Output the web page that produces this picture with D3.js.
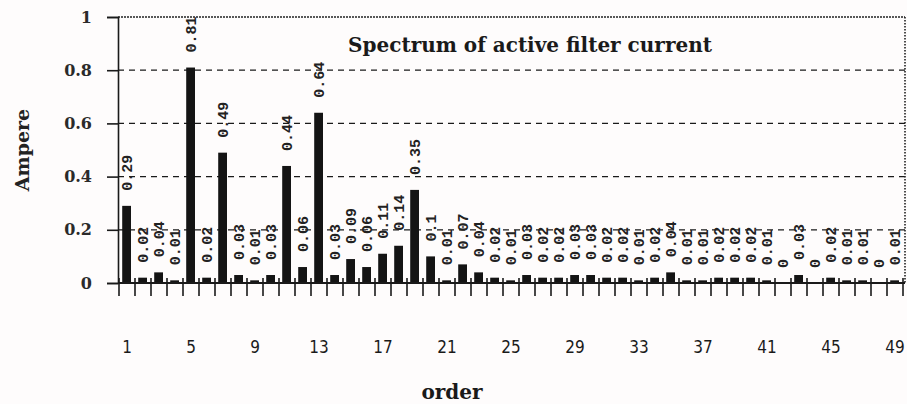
<!DOCTYPE html>
<html>
<head>
<meta charset="utf-8">
<script src="https://cdn.jsdelivr.net/npm/d3@7"></script>
<style>
  html, body { margin: 0; padding: 0; background: #fefcfc; }
  svg { display: block; }
</style>
</head>
<body>
<svg id="chart" width="907" height="404"></svg>
<script>
// Harmonic orders and measured current amplitude (A)
const orders = d3.range(1, 50);
const amps = [
  0.29, 0.02, 0.04, 0.01, 0.81, 0.02, 0.49, 0.03, 0.01, 0.03,
  0.44, 0.06, 0.64, 0.03, 0.09, 0.06, 0.11, 0.14, 0.35, 0.1,
  0.01, 0.07, 0.04, 0.02, 0.01, 0.03, 0.02, 0.02, 0.03, 0.03,
  0.02, 0.02, 0.01, 0.02, 0.04, 0.01, 0.01, 0.02, 0.02, 0.02,
  0.01, 0, 0.03, 0, 0.02, 0.01, 0.01, 0, 0.01
];
const yTicks = [0, 0.2, 0.4, 0.6, 0.8, 1];
const xTickLabels = [1, 5, 9, 13, 17, 21, 25, 29, 33, 37, 41, 45, 49];
const titleText = "Spectrum of active filter current";
const yTitle = "Ampere";
const xTitle = "order";

const data = orders.map((o, i) => ({ order: o, value: amps[i] }));

const svg = d3.select("#chart");
const plotLeft = 119, plotRight = 903, plotTop = 17, plotBottom = 283, frameRight = 905;

const x = d3.scaleBand().domain(orders).range([plotLeft, plotRight]).padding(0);
const y = d3.scaleLinear().domain([0, 1]).range([plotBottom, plotTop]);
const bw = x.bandwidth();
const serif = "'DejaVu Serif', 'Liberation Serif', serif";

// dashed gridlines
svg.append("g")
  .selectAll("line")
  .data(yTicks.filter(v => v > 0 && v < 1))
  .join("line")
  .attr("x1", plotLeft - 1).attr("x2", frameRight)
  .attr("y1", d => y(d)).attr("y2", d => y(d))
  .attr("stroke", "#1a1a1a").attr("stroke-width", 1.3)
  .attr("stroke-dasharray", "6,5");

// dotted frame on top and right
svg.append("line")
  .attr("x1", plotLeft - 1).attr("x2", frameRight).attr("y1", y(1)).attr("y2", y(1))
  .attr("stroke", "#222").attr("stroke-width", 1.4).attr("stroke-dasharray", "2,1");
svg.append("line")
  .attr("x1", frameRight).attr("x2", frameRight).attr("y1", y(1)).attr("y2", y(0))
  .attr("stroke", "#222").attr("stroke-width", 1.6).attr("stroke-dasharray", "1.5,1.5");

// bars
svg.append("g")
  .selectAll("rect")
  .data(data)
  .join("rect")
  .attr("x", d => x(d.order) + bw * 0.2)
  .attr("width", bw * 0.55)
  .attr("y", d => y(d.value))
  .attr("height", d => y(0) - y(d.value))
  .attr("fill", "#141414");

// value labels, rotated
svg.append("g")
  .selectAll("text")
  .data(data)
  .join("text")
  .attr("transform", d => `translate(${x(d.order) + bw / 2 + 5},${y(d.value) - 15}) rotate(-90)`)
  .attr("font-family", "'Liberation Mono', 'DejaVu Sans Mono', monospace")
  .attr("font-size", 15)
  .attr("font-weight", "bold")
  .attr("fill", "#222")
  .text(d => String(d.value));

// y axis
const yAxis = svg.append("g")
  .attr("transform", `translate(${plotLeft - 1},0)`)
  .call(d3.axisLeft(y).tickValues(yTicks).tickSize(11).tickPadding(15).tickFormat(d => String(d)));
yAxis.selectAll("path, line").attr("stroke", "#1a1a1a").attr("stroke-width", 1.6);
yAxis.selectAll("text")
  .attr("font-family", serif).attr("font-weight", "bold")
  .attr("font-size", 16).attr("fill", "#2a2a2a");

// x axis line and crossing ticks at category boundaries
svg.append("line")
  .attr("x1", plotLeft - 1).attr("x2", frameRight).attr("y1", y(0)).attr("y2", y(0))
  .attr("stroke", "#1a1a1a").attr("stroke-width", 2);
const bounds = orders.map(o => x(o)).concat([x(orders[orders.length - 1]) + bw]);
svg.append("g")
  .selectAll("line")
  .data(bounds)
  .join("line")
  .attr("x1", d => d).attr("x2", d => d)
  .attr("y1", y(0) - 5).attr("y2", y(0) + 13)
  .attr("stroke", "#1a1a1a").attr("stroke-width", 1.6);

// x tick labels
svg.append("g")
  .selectAll("text")
  .data(xTickLabels)
  .join("text")
  .attr("x", d => x(d) + bw / 2)
  .attr("y", 353)
  .attr("text-anchor", "middle")
  .attr("font-family", "'Liberation Sans Narrow', 'DejaVu Sans Condensed', 'Liberation Sans', sans-serif")
  .attr("font-size", 17)
  .attr("fill", "#1a1a1a")
  .text(d => d);

// titles
svg.append("text")
  .attr("x", 530).attr("y", 52)
  .attr("text-anchor", "middle")
  .attr("font-family", serif).attr("font-weight", "bold")
  .attr("font-size", 20).attr("fill", "#1a1a1a")
  .text(titleText);

svg.append("text")
  .attr("transform", "translate(29,150) rotate(-90)")
  .attr("text-anchor", "middle")
  .attr("font-family", serif).attr("font-weight", "bold")
  .attr("font-size", 19).attr("fill", "#222")
  .text(yTitle);

svg.append("text")
  .attr("x", 452).attr("y", 399)
  .attr("text-anchor", "middle")
  .attr("font-family", serif).attr("font-weight", "bold")
  .attr("font-size", 20).attr("fill", "#1a1a1a")
  .text(xTitle);
</script>
</body>
</html>
